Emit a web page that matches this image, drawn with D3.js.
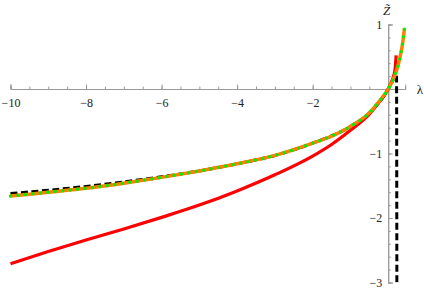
<!DOCTYPE html>
<html>
<head>
<meta charset="utf-8">
<script src="https://cdn.jsdelivr.net/npm/d3@7"></script>
<style>
body { margin: 0; background: #fff; }
text { font-family: "Liberation Serif", "DejaVu Serif", serif; }
</style>
</head>
<body>
<script>
let width = 424
let height = 290

// values
let lamOrange = [-10, -9, -8, -7, -6, -5, -4, -3, -2, -1.5, -1, -0.5, -0.25, 0, 0.1, 0.2, 0.3, 0.38, 0.43]
let zOrange = [-1.66, -1.60, -1.54, -1.46, -1.37, -1.27, -1.16, -1.03, -0.84, -0.73, -0.58, -0.37, -0.20, 0, 0.11, 0.25, 0.46, 0.70, 0.94]

let lamRed = [-10, -9, -8, -7, -6, -5, -4, -3, -2, -1.5, -1, -0.5, -0.25, 0, 0.1, 0.18, 0.21]
let zRed = [-2.71, -2.52, -2.34, -2.17, -1.99, -1.80, -1.58, -1.33, -1.04, -0.86, -0.64, -0.39, -0.21, 0, 0.13, 0.30, 0.52]

let lamBlack = [-10, -9, -8, -7, -6, -5, -4, -3, -2, -1, -0.5, 0, 0.1, 0.22, 0.23]
let zBlack = [-1.62, -1.57, -1.51, -1.44, -1.36, -1.27, -1.16, -1.03, -0.84, -0.58, -0.37, 0, 0.11, 0.22, -3.3]

let xMajor = [-10, -8, -6, -4, -2]
let xMinor = d3.range(-10, 0.5, 0.5)
let yMajor = [-3, -2, -1, 1]
let yMinor = d3.range(-3, 1.01, 0.2)

let svg = d3.select("body")
  .append("svg")
  .attr("width", width)
  .attr("height", height)

//scales
let x = d3.scaleLinear()
  .domain([-10, 0.45])
  .range([10.5, 405.2])

let y = d3.scaleLinear()
  .domain([-3, 1])
  .range([282.5, 24.5])

let fmt = d => (d < 0 ? "\u2212" : "") + Math.abs(d)

// minor ticks
svg.append("g")
  .attr("transform", "translate(0," + y(0) + ")")
  .call(d3.axisBottom(x).tickValues(xMinor).tickSize(-2.5).tickFormat(""))
svg.append("g")
  .attr("transform", "translate(" + x(0) + ",0)")
  .call(d3.axisLeft(y).tickValues(yMinor).tickSize(-2.5).tickFormat(""))

// major ticks + labels
let xAxis = svg.append("g")
  .attr("transform", "translate(0," + y(0) + ")")
  .call(d3.axisBottom(x).tickValues(xMajor).tickSize(-4.5).tickPadding(9).tickFormat(fmt))
let yAxis = svg.append("g")
  .attr("transform", "translate(" + x(0) + ",0)")
  .call(d3.axisLeft(y).tickValues(yMajor).tickSize(-4.5).tickPadding(6).tickFormat(fmt))

svg.selectAll(".domain").attr("stroke", "#999").attr("stroke-width", 1)
svg.selectAll(".tick line").attr("stroke", "#999")
svg.selectAll(".tick text").attr("fill", "#222").style("font-size", "12px")

svg.append("text")
  .attr("x", 420)
  .attr("y", y(0) + 4.5)
  .attr("text-anchor", "middle")
  .style("font-size", "13px")
  .attr("fill", "#222")
  .text("λ")

svg.append("text")
  .attr("x", 386.5)
  .attr("y", 15)
  .attr("text-anchor", "middle")
  .style("font-size", "13px")
  .style("font-style", "italic")
  .attr("fill", "#222")
  .text("Z\u0303")

svg.append("clipPath")
  .attr("id", "plot")
  .append("rect")
  .attr("x", 0)
  .attr("y", y(1.06))
  .attr("width", width)
  .attr("height", y(-3) - y(1.06))

let line = d3.line()
  .x(d => x(d[0]))
  .y(d => y(d[1]))
  .curve(d3.curveMonotoneX)

let curves = svg.append("g").attr("clip-path", "url(#plot)")

curves.append("path")
  .datum(d3.zip(lamRed, zRed))
  .attr("d", line)
  .style("fill", "none")
  .style("stroke", "#ff0000")
  .style("stroke-width", 3.2)

curves.append("path")
  .datum(d3.zip(lamBlack, zBlack))
  .attr("d", line)
  .style("fill", "none")
  .style("stroke", "#000")
  .style("stroke-width", 3)
  .style("stroke-dasharray", "7,3.5")

curves.append("path")
  .datum(d3.zip(lamOrange, zOrange))
  .attr("d", line)
  .style("fill", "none")
  .style("stroke", "#ff8000")
  .style("stroke-width", 3.5)

curves.append("path")
  .datum(d3.zip(lamOrange, zOrange))
  .attr("d", line)
  .style("fill", "none")
  .style("stroke", "#00ee00")
  .style("stroke-width", 3.4)
  .style("stroke-linecap", "round")
  .style("stroke-dasharray", "0,7.5")
</script>
</body>
</html>
